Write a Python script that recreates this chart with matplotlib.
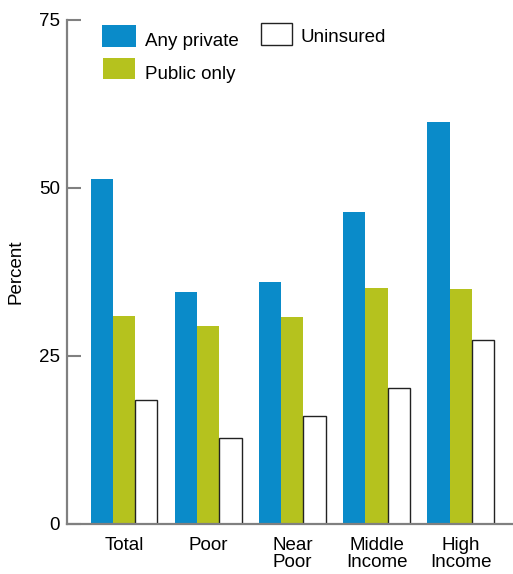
#!/usr/bin/env python3
"""Coverage by income group: grouped bars with three insurance series."""

import matplotlib

matplotlib.use("Agg")
import matplotlib.pyplot as plt
import numpy as np
from matplotlib.patches import Rectangle

CATEGORIES = ["Total", "Poor", "Near\nPoor", "Middle\nIncome", "High\nIncome"]
ANY_PRIVATE = [51.3, 34.5, 36.0, 46.4, 59.8]
PUBLIC_ONLY = [31.0, 29.5, 30.8, 35.1, 34.9]
UNINSURED = [18.5, 12.8, 16.1, 20.3, 27.4]

BLUE = "#0A8BC9"
GREEN = "#B5C21E"
AXIS_GREY = "#808080"
FS = 13.5
W, H = 513, 574

plt.rcParams["font.family"] = ["Liberation Sans", "DejaVu Sans"]

fig = plt.figure(figsize=(W / 100, H / 100), dpi=100)
ax = fig.add_axes([66.7 / W, 1 - 524 / H, (W - 66.7) / W, (524 - 20) / H])

xs = np.arange(len(CATEGORIES))
width = 0.264
ax.bar(xs - width, ANY_PRIVATE, width=width, color=BLUE, linewidth=0)
ax.bar(xs, PUBLIC_ONLY, width=width, color=GREEN, linewidth=0)
ax.bar(xs + width, UNINSURED, width=width, color="white", edgecolor="#222222", linewidth=1.0)

ax.set_xlim(-0.68, 4.62)
ax.set_ylim(0, 75)
ax.set_yticks([0, 25, 50, 75])
ax.set_yticklabels(["0", "25", "50", "75"], fontsize=FS)
ax.tick_params(axis="y", direction="in", length=10, color=AXIS_GREY, width=1.5, pad=5)
ax.set_xticks(xs)
ax.set_xticklabels(CATEGORIES, fontsize=FS, linespacing=1.05, va="top")
ax.tick_params(axis="x", length=0, pad=9)

for side in ("top", "right"):
    ax.spines[side].set_visible(False)
for side in ("left", "bottom"):
    ax.spines[side].set_color(AXIS_GREY)
    ax.spines[side].set_linewidth(1.6)

ax.set_ylabel("Percent", fontsize=FS, labelpad=10)


# legend drawn by hand so the text sits a little below each swatch, as in the original
def legend_item(x0, y0, x1, y1, face, edge, label, tx, ty):
    fig.add_artist(
        Rectangle(
            (x0 / W, 1 - y1 / H),
            (x1 - x0) / W,
            (y1 - y0) / H,
            facecolor=face,
            edgecolor=edge,
            linewidth=1.0 if edge != "none" else 0,
            transform=fig.transFigure,
        )
    )
    fig.text(tx / W, 1 - ty / H, label, fontsize=FS, ha="left", va="center")


legend_item(101.7, 25, 136, 46.7, BLUE, "none", "Any private", 145, 42)
legend_item(102.7, 57.7, 135.3, 79.3, GREEN, "none", "Public only", 145, 74)
legend_item(260.7, 23, 292, 45, "white", "#222222", "Uninsured", 301, 38)

fig.savefig("out.png", dpi=100)
